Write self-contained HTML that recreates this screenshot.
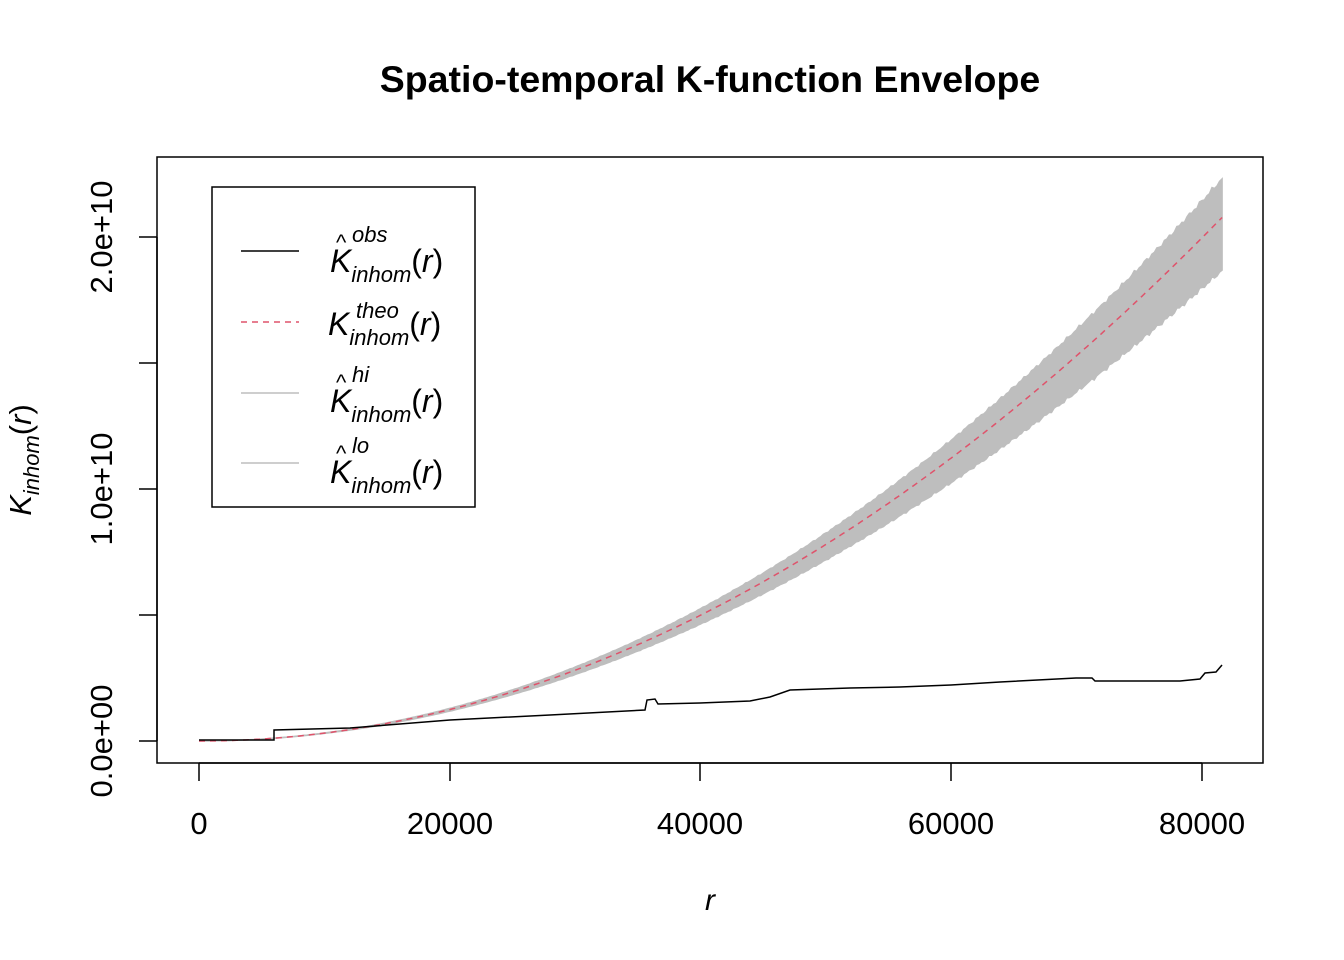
<!DOCTYPE html>
<html><head><meta charset="utf-8"><style>body{margin:0;background:#fff}svg{display:block}</style></head><body>
<svg width="1344" height="960" xmlns="http://www.w3.org/2000/svg" font-family="Liberation Sans, Arial, sans-serif">
<rect width="1344" height="960" fill="#fff"/>
<text x="710" y="92" text-anchor="middle" font-size="37.5" font-weight="bold">Spatio-temporal K-function Envelope</text>
<g id="band"></g>
<g id="lines"></g>
<rect x="157" y="157" width="1106" height="606" fill="none" stroke="#000" stroke-width="1.5"/>
<g stroke="#000" stroke-width="1.5">
<line x1="199" y1="763" x2="1202" y2="763"/>
<line x1="199" y1="763" x2="199" y2="781"/><line x1="450" y1="763" x2="450" y2="781"/><line x1="700" y1="763" x2="700" y2="781"/><line x1="951" y1="763" x2="951" y2="781"/><line x1="1202" y1="763" x2="1202" y2="781"/>
<line x1="157" y1="237" x2="157" y2="741"/>
<line x1="139" y1="741" x2="157" y2="741"/><line x1="139" y1="615" x2="157" y2="615"/><line x1="139" y1="489" x2="157" y2="489"/><line x1="139" y1="363" x2="157" y2="363"/><line x1="139" y1="237" x2="157" y2="237"/>
</g>
<g font-size="31" text-anchor="middle">
<text x="199" y="834">0</text><text x="450" y="834">20000</text><text x="700" y="834">40000</text><text x="951" y="834">60000</text><text x="1202" y="834">80000</text>
<text transform="translate(112,741) rotate(-90)">0.0e+00</text>
<text transform="translate(112,489) rotate(-90)">1.0e+10</text>
<text transform="translate(112,237) rotate(-90)">2.0e+10</text>
</g>
<text x="710" y="910" font-size="30" font-style="italic" text-anchor="middle">r</text>
<text transform="translate(31,460) rotate(-90)" font-size="31" text-anchor="middle"><tspan font-style="italic">K</tspan><tspan font-size="22" dy="8" font-style="italic">inhom</tspan><tspan dy="-8">(</tspan><tspan font-style="italic">r</tspan>)</text>
<rect x="212" y="187" width="263" height="320" fill="#fff" stroke="#000" stroke-width="1.5"/>
<line x1="241" y1="251" x2="299" y2="251" stroke="#000" stroke-width="1.5"/>
<line x1="241" y1="322" x2="299" y2="322" stroke="#DF536B" stroke-width="1.5" stroke-dasharray="6,5"/>
<line x1="241" y1="393" x2="299" y2="393" stroke="#BEBEBE" stroke-width="1.5"/>
<line x1="241" y1="463" x2="299" y2="463" stroke="#BEBEBE" stroke-width="1.5"/>
<g font-size="32">
<text x="330" y="272"><tspan font-style="italic">K</tspan><tspan font-size="22" font-style="italic" dy="10">inhom</tspan><tspan dy="-10">(</tspan><tspan font-style="italic">r</tspan>)</text>
<text x="336" y="250" font-size="22">^</text><text x="352" y="242" font-size="22" font-style="italic">obs</text>
<text x="328" y="335"><tspan font-style="italic">K</tspan><tspan font-size="22" font-style="italic" dy="10">inhom</tspan><tspan dy="-10">(</tspan><tspan font-style="italic">r</tspan>)</text>
<text x="356" y="318" font-size="22" font-style="italic">theo</text>
<text x="330" y="412"><tspan font-style="italic">K</tspan><tspan font-size="22" font-style="italic" dy="10">inhom</tspan><tspan dy="-10">(</tspan><tspan font-style="italic">r</tspan>)</text>
<text x="336" y="390" font-size="22">^</text><text x="352" y="382" font-size="22" font-style="italic">hi</text>
<text x="330" y="483"><tspan font-style="italic">K</tspan><tspan font-size="22" font-style="italic" dy="10">inhom</tspan><tspan dy="-10">(</tspan><tspan font-style="italic">r</tspan>)</text>
<text x="336" y="461" font-size="22">^</text><text x="352" y="453" font-size="22" font-style="italic">lo</text>
</g>
<script>
var ns="http://www.w3.org/2000/svg";
function X(r){return 199+r*1003/80000}
function Y(k){return 741-k*252}
var hi=[],lo=[],th=[];
for(var r=0;r<=81600;r+=200){var k=3.12*Math.pow(r/1e4,2)/100;var w=48*Math.pow(r/81600,2.5)/252;
var j=(Math.sin(r*0.013)+Math.sin(r*0.0071))*0.03*w;
hi.push(X(r).toFixed(1)+","+Y(k+w*0.8+j).toFixed(1));lo.push(X(r).toFixed(1)+","+Y(k-w*1.1+j).toFixed(1));th.push(X(r).toFixed(1)+","+Y(k).toFixed(1));}
var p=document.createElementNS(ns,"polygon");p.setAttribute("points",hi.concat(lo.reverse()).join(" "));p.setAttribute("fill","#BEBEBE");p.setAttribute("stroke","#BEBEBE");p.setAttribute("stroke-width","1.5");
document.getElementById("band").appendChild(p);
var t=document.createElementNS(ns,"polyline");t.setAttribute("points",th.join(" "));t.setAttribute("fill","none");t.setAttribute("stroke","#DF536B");t.setAttribute("stroke-width","1.5");t.setAttribute("stroke-dasharray","6,5");
document.getElementById("lines").appendChild(t);
var o="199,740 274,740 274,730 350,728 450,720 550,715 645,710 647,700 655,699 658,704 700,703 750,701 770,697 790,690 850,688 900,687 951,685 1000,682 1076,678 1092,678 1095,681 1180,681 1200,679 1205,673 1216,672 1222,665";
var b=document.createElementNS(ns,"polyline");b.setAttribute("points",o);b.setAttribute("fill","none");b.setAttribute("stroke","#000");b.setAttribute("stroke-width","1.5");
document.getElementById("lines").appendChild(b);
</script>
</svg>
</body></html>
